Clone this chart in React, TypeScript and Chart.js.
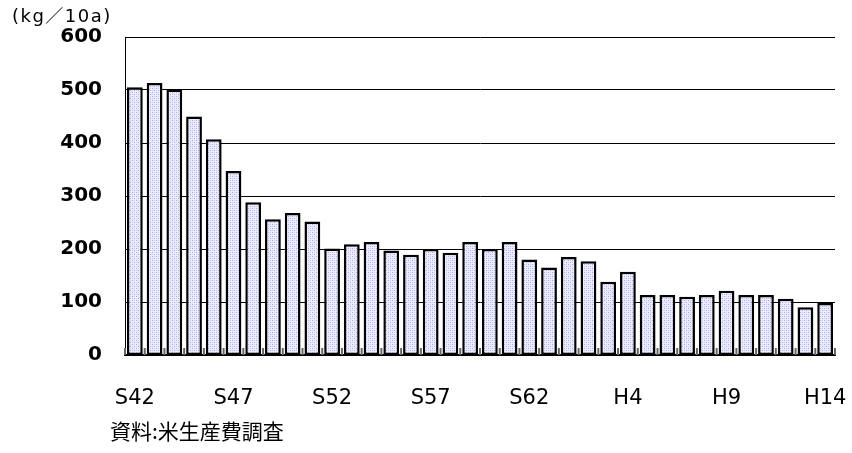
import React, { useEffect, useRef } from "react";
import { Chart, registerables } from "chart.js";

Chart.register(...registerables);

const categories = [
  "S42", "S43", "S44", "S45", "S46", "S47", "S48", "S49", "S50", "S51",
  "S52", "S53", "S54", "S55", "S56", "S57", "S58", "S59", "S60", "S61",
  "S62", "S63", "H1", "H2", "H3", "H4", "H5", "H6", "H7", "H8",
  "H9", "H10", "H11", "H12", "H13", "H14",
];

const values = [
  505, 513, 501, 450, 407, 347, 288, 256, 268, 252,
  201, 209, 213, 197, 189, 200, 193, 213, 200, 213,
  180, 165, 185, 177, 138, 157, 113, 113, 110, 113,
  121, 113, 113, 106, 90, 98,
];

const shownLabels = ["S42", "S47", "S52", "S57", "S62", "H4", "H9", "H14"];
const yTicks = [0, 100, 200, 300, 400, 500, 600];
const unitLabel = "(kg／10a)";
const sourceLabel = "資料:米生産費調査";

function makePattern(): CanvasPattern | string {
  const c = document.createElement("canvas");
  c.width = 4;
  c.height = 4;
  const ctx = c.getContext("2d");
  if (!ctx) return "#e4e4ff";
  ctx.fillStyle = "#ececff";
  ctx.fillRect(0, 0, 4, 4);
  ctx.fillStyle = "#a8a8f2";
  ctx.fillRect(0, 0, 1, 1);
  ctx.fillRect(2, 2, 1, 1);
  ctx.fillStyle = "#cfcff8";
  ctx.fillRect(2, 0, 1, 1);
  ctx.fillRect(0, 2, 1, 1);
  const p = ctx.createPattern(c, "repeat");
  return p || "#e4e4ff";
}

const textPlugin = {
  id: "extraText",
  afterDraw(chart: any) {
    const ctx = chart.ctx;
    ctx.save();
    ctx.fillStyle = "#000";
    ctx.textBaseline = "middle";
    ctx.textAlign = "left";
    ctx.font = "18px 'DejaVu Sans', 'Noto Sans CJK JP'";
    try {
      (ctx as any).letterSpacing = "1.5px";
    } catch (e) {}
    ctx.fillText(unitLabel, 12, 17);
    try {
      (ctx as any).letterSpacing = "0px";
    } catch (e) {}
    ctx.font = "21px 'Noto Sans CJK JP'";
    ctx.fillText(sourceLabel, 110, 431);
    ctx.restore();
  },
  beforeDatasetsDraw(chart: any) {
    const ctx = chart.ctx;
    const xs = chart.scales.x;
    const area = chart.chartArea;
    ctx.save();
    ctx.strokeStyle = "#666";
    ctx.lineWidth = 2;
    for (let i = 0; i <= categories.length; i++) {
      const x =
        i === 0
          ? area.left
          : i === categories.length
          ? area.right
          : (xs.getPixelForValue(i - 1) + xs.getPixelForValue(i)) / 2;
      ctx.beginPath();
      ctx.moveTo(x, area.bottom);
      ctx.lineTo(x, area.bottom - 7);
      ctx.stroke();
    }
    ctx.restore();
  },
};

export default function App() {
  const ref = useRef<HTMLCanvasElement | null>(null);

  useEffect(() => {
    if (!ref.current) return;
    const pattern = makePattern();
    const chart = new Chart(ref.current, {
      type: "bar",
      data: {
        labels: categories,
        datasets: [
          {
            data: values,
            backgroundColor: pattern as any,
            borderColor: "#000",
            borderWidth: 2.5,
            borderSkipped: false,
            barPercentage: 0.8,
            categoryPercentage: 1,
          },
        ],
      },
      options: {
        responsive: false,
        animation: false,
        layout: { padding: { top: 37, right: 17, left: 0, bottom: 0 } },
        plugins: {
          legend: { display: false },
          tooltip: { enabled: false },
          title: { display: false },
        },
        scales: {
          x: {
            offset: true,
            grid: { display: false, drawTicks: false },
            border: { display: true, color: "#000", width: 2 },
            ticks: {
              autoSkip: false,
              maxRotation: 0,
              minRotation: 0,
              padding: 31,
              color: "#000",
              font: { family: "'DejaVu Sans'", size: 21 },
              callback: (_v: any, i: number) =>
                shownLabels.includes(categories[i]) ? categories[i] : "",
            },
            afterFit: (s: any) => {
              s.height = 98;
              s.paddingLeft = 0;
              s.paddingRight = 0;
            },
          },
          y: {
            min: 0,
            max: 600,
            afterBuildTicks: (s: any) => {
              s.ticks = yTicks.map((v) => ({ value: v }));
            },
            grid: {
              color: "#000",
              lineWidth: (c: any) => (c.tick && c.tick.value === 0 ? 0 : 1),
              drawTicks: false,
            },
            border: { display: true, color: "#000", width: 1 },
            ticks: {
              padding: 23,
              color: "#000",
              font: { family: "'DejaVu Sans'", size: 20, weight: "bold" },
            },
            afterFit: (s: any) => {
              s.width = 125;
              s.paddingTop = 0;
              s.paddingBottom = 0;
            },
          },
        },
      },
      plugins: [textPlugin],
    });
    return () => chart.destroy();
  }, []);

  return (
    <div style={{ position: "absolute", left: 0, top: 0, width: 852, height: 453, background: "#fff" }}>
      <canvas ref={ref} width={852} height={453} />
    </div>
  );
}
